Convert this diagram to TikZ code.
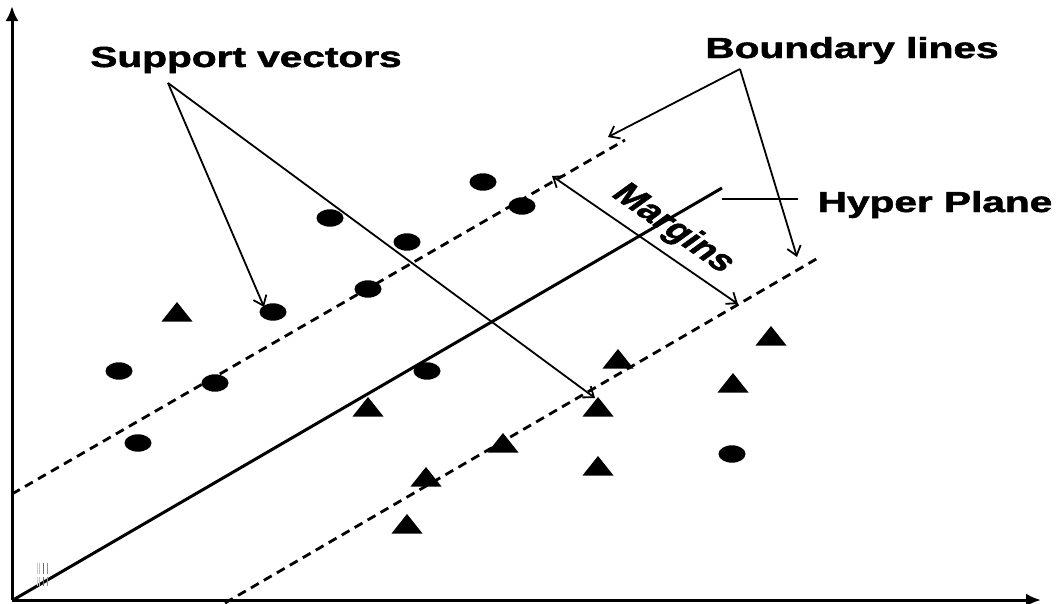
\documentclass[tikz,border=0pt]{standalone}
\usepackage{fontspec}
\setmainfont{Liberation Sans}
\newfontfamily\heavyfont{Liberation Sans}[BoldFeatures={FakeBold=1.6}]
\usetikzlibrary{arrows.meta}
\tikzset{
  axis/.style={line width=3pt, -{Latex[length=15pt,width=13pt]}},
  hyper/.style={line width=3pt},
  bound/.style={line width=2.8pt, dash pattern=on 9pt off 6pt},
  pointer/.style={line width=1.8pt, -{Straight Barb[length=9pt,width=14pt,line width=1.8pt]}},
  twoway/.style={line width=1.8pt, {Straight Barb[length=9pt,width=14pt,line width=1.8pt]}-{Straight Barb[length=9pt,width=14pt,line width=1.8pt]}},
  lbl/.style={inner sep=0pt, anchor=base},
}
\newcommand\biglab[2]{\scalebox{1.4}[1]{\fontsize{#1}{#1}\selectfont\heavyfont\bfseries #2}}
\newcommand\dotpt[1]{\fill #1 ellipse [x radius=13.5pt, y radius=8.7pt];}
\newcommand\tript[1]{\fill #1 ++(0,-10) -- ++(15.5,19.5) -- ++(-31,0) -- cycle;}
\begin{document}
\begin{tikzpicture}[x=1pt,y=-1pt]
\useasboundingbox (0,0) rectangle (1058,603);
% axes
\coordinate (O) at (12,600);
\coordinate (ytop) at (12,6);
\coordinate (xend) at (1041,600);
\draw[axis] (O) -- (ytop);
\draw[axis] (O) -- (xend);
% hyperplane and boundaries
\coordinate (h1) at (13,600);
\coordinate (h2) at (722,188);
\draw[hyper] (h1) -- (h2);
\coordinate (u1) at (12,494);
\coordinate (u2) at (625,140);
\draw[bound] (u1) -- (u2);
\coordinate (l1) at (225,603);
\coordinate (l2) at (818,258);
\draw[bound] (l1) -- (l2);
% circles
\foreach \p in {(483,182),(522,206),(330,218),(407,242),(368,289),(273,312),(119,371),(215,383),(427,371),(138,443),(732,454)}{\dotpt{\p}}
% triangles
\foreach \p in {(177,312),(368,407),(618,359),(771,336),(733,383),(598,407),(503,443),(426,477),(598,466),(407,524)}{\tript{\p}}
% labels
\node[lbl] (sv) at (246,67) {\biglab{29}{Support vectors}};
\node[lbl] (bl) at (852,58) {\biglab{29}{Boundary lines}};
\node[lbl] (hp) at (935,212) {\biglab{29}{Hyper Plane}};
\begin{scope}[shift={(673,229)}, xscale=1.4]
\node[rotate=-44.5, transform shape, inner sep=0pt] (mg) at (0,0) {\fontsize{29}{29}\selectfont\heavyfont\bfseries Margins};
\end{scope}
% connectors
\coordinate (svs) at (168,83);
\coordinate (sva) at (264,307);
\coordinate (svb) at (595,398);
\draw[pointer] (svs) -- (sva);
\draw[pointer] (svs) -- (svb);
\coordinate (bls) at (740,69);
\coordinate (bla) at (608,137);
\coordinate (blb) at (797,257);
\draw[pointer] (bls) -- (bla);
\draw[pointer] (bls) -- (blb);
\coordinate (m1) at (552,176);
\coordinate (m2) at (738,304);
\draw[twoway] (m1) -- (m2);
\coordinate (hpa) at (722,199);
\coordinate (hpb) at (798,199);
\draw[line width=2.6pt] (hpa) -- (hpb);
% small colour mark
\foreach \xx/\cc in {37.5/cyan!40, 39.8/orange!60, 43/cyan!70!blue, 47.5/brown}{
  \draw[\cc, line width=1pt] (\xx,563) -- (\xx,574);
  \draw[\cc, line width=1pt] (\xx,577) -- (\xx,586);
}
\end{tikzpicture}
\end{document}
